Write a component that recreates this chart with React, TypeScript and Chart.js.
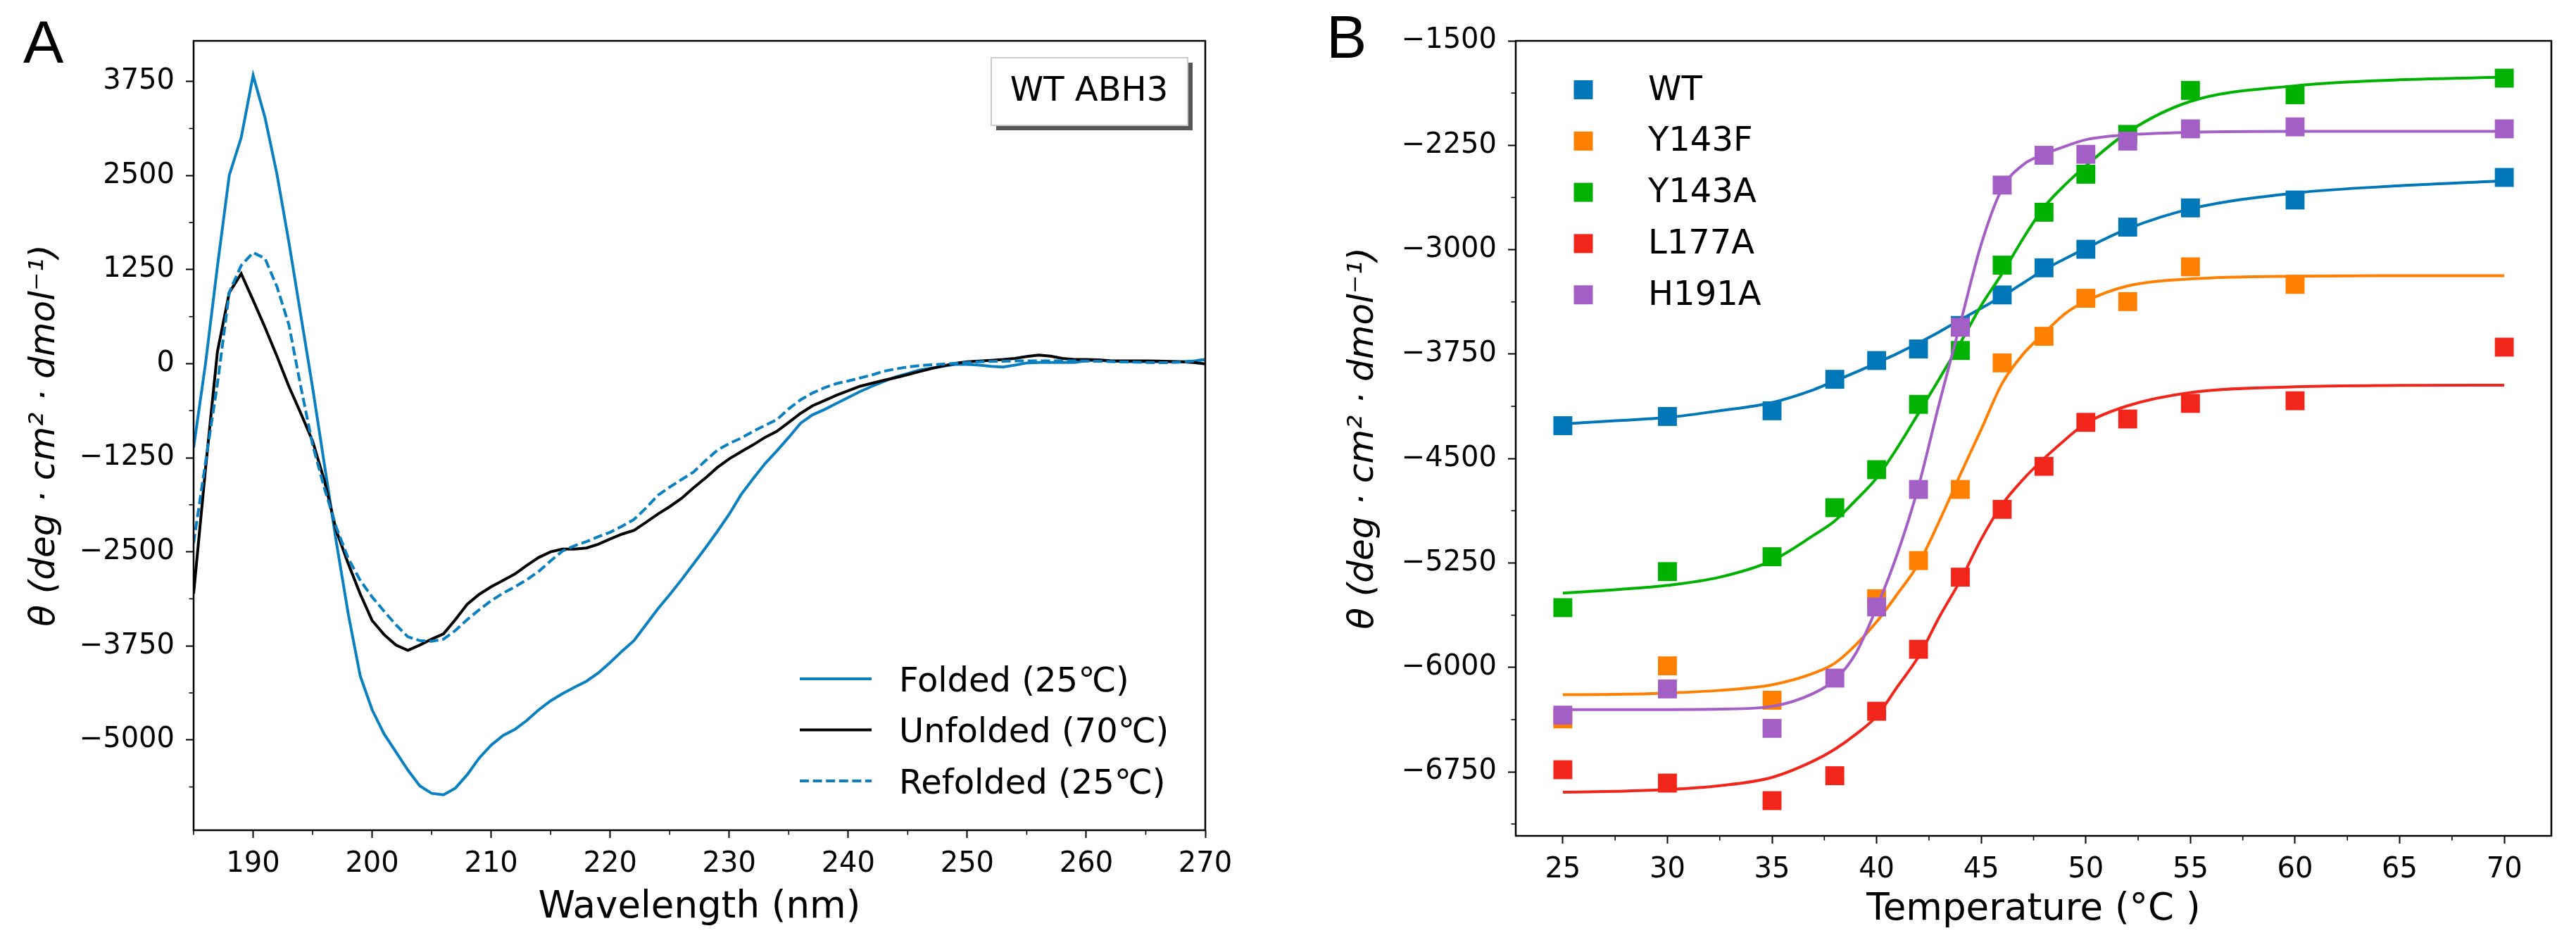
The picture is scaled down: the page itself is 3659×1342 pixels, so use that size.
import React, { useEffect, useRef } from 'react';
import { Chart, registerables } from 'chart.js';

Chart.register(...registerables);

const FONT = '"DejaVu Sans", sans-serif';

// ---------- Panel A: CD spectra ----------
const wavelengths = [
  185, 186, 187, 188, 189, 190, 191, 192, 193, 194, 195, 196, 197, 198, 199, 200, 201, 202, 203, 204,
  205, 206, 207, 208, 209, 210, 211, 212, 213, 214, 215, 216, 217, 218, 219, 220, 221, 222, 223, 224,
  225, 226, 227, 228, 229, 230, 231, 232, 233, 234, 235, 236, 237, 238, 239, 240, 241, 242, 243, 244,
  245, 246, 247, 248, 249, 250, 251, 252, 253, 254, 255, 256, 257, 258, 259, 260, 261, 262, 263, 264,
  265, 266, 267, 268, 269, 270,
];
const foldedA = [
  -1115, 0, 1290, 2506, 3005, 3831, 3270, 2520, 1620, 650, -320, -1350, -2380, -3330, -4150, -4600, -4920, -5160, -5400, -5610,
  -5710, -5730, -5640, -5460, -5240, -5070, -4940, -4860, -4740, -4600, -4480, -4385, -4300, -4220, -4110, -3970, -3820, -3680, -3470, -3260,
  -3070, -2870, -2660, -2450, -2230, -2000, -1740, -1530, -1330, -1160, -980, -790, -680, -610, -530, -450, -370, -300, -235, -175,
  -130, -85, -58, -33, -10, -10, -20, -35, -45, -20, 10, 15, 15, 15, 15, 40, 45, 35, 30, 25,
  25, 25, 25, 25, 35, 55,
];
const unfoldedA = [
  -3057, -1400, 157, 946, 1196, 843, 481, 100, -300, -658, -1030, -1560, -2225, -2660, -3060, -3414, -3600, -3740, -3810, -3740,
  -3660, -3590, -3400, -3195, -3065, -2965, -2880, -2795, -2680, -2575, -2500, -2465, -2463, -2450, -2400, -2330, -2265, -2215, -2110, -2000,
  -1900, -1790, -1650, -1520, -1380, -1265, -1170, -1080, -980, -900, -780, -660, -560, -490, -420, -360, -300, -260, -220, -185,
  -145, -105, -65, -30, 5, 25, 35, 45, 55, 70, 95, 115, 100, 70, 55, 55, 50, 40, 38, 38,
  38, 35, 30, 26, 15, -3,
];
const refoldedA = [
  -2383, -1313, -270, 950, 1305, 1476, 1398, 1024, 520, -300, -1080, -1660, -2180, -2590, -2880, -3100, -3290, -3470, -3630, -3680,
  -3690, -3660, -3545, -3400, -3270, -3150, -3050, -2965, -2870, -2760, -2620, -2490, -2420, -2365, -2300, -2240, -2160, -2070, -1920, -1750,
  -1640, -1540, -1440, -1290, -1150, -1060, -990, -900, -820, -745, -600, -480, -390, -320, -265, -230, -190, -150, -100, -70,
  -45, -25, -15, -5, 5, 15, 25, 30, 33, 36, 38, 38, 38, 38, 36, 34, 32, 28, 24, 20,
  16, 14, 14, 20, 35, 55,
];
const labelsA = ['Folded (25℃)', 'Unfolded (70℃)', 'Refolded (25℃)'];
const xTicksA = [190, 200, 210, 220, 230, 240, 250, 260, 270];
const xMinorA = [185, 195, 205, 215, 225, 235, 245, 255, 265];
const yTicksA = [-5000, -3750, -2500, -1250, 0, 1250, 2500, 3750];
const yMinorA = [-5625, -4375, -3125, -1875, -625, 625, 1875, 3125];

// ---------- Panel B: thermal melts ----------
const tempsB = [25, 30, 35, 38, 40, 42, 44, 46, 48, 50, 52, 55, 60, 70];
const wtPts = [-4264, -4198, -4157, -3931, -3796, -3713, -3544, -3325, -3130, -2997, -2838, -2700, -2643, -2481];
const y143fPts = [-6370, -5989, -6236, null, -5507, -5233, -4722, -3813, -3622, -3349, -3373, -3123, -3249, null];
const y143aPts = [-5571, -5312, -5205, -4853, -4580, -4111, -3724, -3111, -2731, -2458, -2172, -1856, -1887, -1768];
const l177aPts = [-6735, -6831, -6957, -6778, -6315, -5870, -5352, -4865, -4556, -4240, -4216, -4104, -4085, -3700];
const h191aPts = [-6343, -6155, -6438, -6077, -5566, -4722, -3557, -2536, -2322, -2315, -2220, -2132, -2118, -2132];

const fitTemps = [25, 27.5, 30, 32.5, 35, 37, 38, 39, 40, 41, 42, 43, 44, 45, 46, 47, 48, 49, 50, 52, 55, 60, 65, 70];
const wtFit = [-4252, -4229, -4205, -4157, -4098, -4005, -3943, -3880, -3813, -3745, -3670, -3590, -3504, -3420, -3335, -3240, -3145, -3065, -2990, -2850, -2707, -2593, -2541, -2505];
const y143fFit = [-6196, -6194, -6184, -6165, -6125, -6041, -5970, -5839, -5673, -5471, -5257, -4948, -4615, -4290, -3960, -3750, -3600, -3460, -3370, -3260, -3210, -3190, -3187, -3187];
const y143aFit = [-5466, -5442, -5411, -5352, -5233, -5050, -4948, -4800, -4639, -4420, -4175, -3926, -3670, -3400, -3171, -2920, -2695, -2535, -2398, -2156, -1935, -1823, -1780, -1761];
const l177aFit = [-6897, -6890, -6878, -6850, -6790, -6671, -6588, -6481, -6350, -6137, -5923, -5637, -5376, -5079, -4830, -4650, -4500, -4366, -4247, -4121, -4026, -3985, -3975, -3973];
const h191aFit = [-6303, -6303, -6303, -6300, -6280, -6185, -6090, -5900, -5570, -5180, -4700, -4100, -3530, -2960, -2560, -2390, -2315, -2258, -2210, -2175, -2157, -2150, -2150, -2150];

const namesB = ['WT', 'Y143F', 'Y143A', 'L177A', 'H191A'];
const colorsB = ['#0077b8', '#ff7f00', '#00b200', '#f2251b', '#a45fc7'];
const xTicksB = [25, 30, 35, 40, 45, 50, 55, 60, 65, 70];
const xMinorB = [27.5, 32.5, 37.5, 42.5, 47.5, 52.5, 57.5, 62.5, 67.5];
const yTicksB = [-6750, -6000, -5250, -4500, -3750, -3000, -2250, -1500];
const yMinorB = [-7125, -6375, -5625, -4875, -4125, -3375, -2625, -1875];

const blueA = '#0a80c0';
const dashA = [13, 5.6];
const LW = 4;

const fmt = (v: number) => (v < 0 ? '\u2212' + Math.abs(v) : String(v));
const pts = (xs: number[], ys: (number | null)[]) =>
  xs.map((x, i) => ({ x, y: ys[i] })).filter((p) => p.y !== null);

function xAxis(min: number, max: number, ticks: number[], title: string, h: number, titlePad: number) {
  return {
    type: 'linear',
    position: 'bottom',
    min,
    max,
    bounds: 'data',
    afterBuildTicks: (s: any) => {
      s.ticks = ticks.map((v) => ({ value: v }));
    },
    afterFit: (s: any) => {
      s.height = h;
    },
    grid: { display: true, drawOnChartArea: false, drawTicks: true, tickLength: 11, tickWidth: 2, tickColor: '#000' },
    border: { display: false },
    ticks: {
      color: '#000',
      font: { family: FONT, size: 40 },
      padding: 14,
      maxRotation: 0,
      autoSkip: false,
      callback: (v: any) => fmt(Number(v)),
    },
    title: { display: true, text: title, color: '#000', font: { family: FONT, size: 53 }, padding: { top: 0, bottom: titlePad } },
  };
}

function yAxis(min: number, max: number, ticks: number[], w: number, titlePad: number) {
  return {
    type: 'linear',
    position: 'left',
    min,
    max,
    bounds: 'data',
    afterBuildTicks: (s: any) => {
      s.ticks = ticks.map((v) => ({ value: v }));
    },
    afterFit: (s: any) => {
      s.width = w;
    },
    grid: { display: true, drawOnChartArea: false, drawTicks: true, tickLength: 11, tickWidth: 2, tickColor: '#000' },
    border: { display: false },
    ticks: {
      color: '#000',
      font: { family: FONT, size: 40 },
      padding: 16,
      autoSkip: false,
      callback: (v: any) => fmt(Number(v)),
    },
    title: {
      display: true,
      text: 'θ (deg · cm² · dmol⁻¹)',
      color: '#000',
      font: { family: FONT, size: 50, style: 'italic' },
      padding: { top: titlePad, bottom: 0 },
    },
  };
}

function drawAxesExtras(chart: any, xMinor: number[], yMinor: number[]) {
  const { ctx, chartArea: a, scales } = chart;
  ctx.save();
  ctx.strokeStyle = '#000';
  ctx.lineWidth = 1.6;
  for (const v of xMinor) {
    const p = scales.x.getPixelForValue(v);
    ctx.beginPath();
    ctx.moveTo(p, a.bottom);
    ctx.lineTo(p, a.bottom + 6.5);
    ctx.stroke();
  }
  for (const v of yMinor) {
    const p = scales.y.getPixelForValue(v);
    ctx.beginPath();
    ctx.moveTo(a.left, p);
    ctx.lineTo(a.left - 6.5, p);
    ctx.stroke();
  }
  ctx.lineWidth = 2.5;
  ctx.strokeRect(a.left, a.top, a.right - a.left, a.bottom - a.top);
  ctx.restore();
}

const annotA = {
  id: 'annotA',
  afterDraw(chart: any) {
    drawAxesExtras(chart, xMinorA, yMinorA);
    const ctx = chart.ctx;
    ctx.save();
    // panel letter
    ctx.fillStyle = '#000';
    ctx.font = '86px "Liberation Sans", sans-serif';
    ctx.textBaseline = 'alphabetic';
    ctx.textAlign = 'left';
    ctx.fillText('A', 33, 89);
    // legend
    const cols = [blueA, '#000', blueA];
    ctx.font = '48px ' + FONT;
    labelsA.forEach((lab, i) => {
      const y = 964 + i * 72.5;
      ctx.strokeStyle = cols[i];
      ctx.lineWidth = LW;
      ctx.setLineDash(i === 2 ? dashA : []);
      ctx.beginPath();
      ctx.moveTo(1136, y);
      ctx.lineTo(1238, y);
      ctx.stroke();
      ctx.setLineDash([]);
      ctx.fillStyle = '#000';
      ctx.fillText(lab, 1277, y + 17.5);
    });
    // WT ABH3 box with shadow
    ctx.fillStyle = '#555555';
    ctx.fillRect(1415, 89, 279, 96);
    ctx.fillStyle = '#fff';
    ctx.fillRect(1408, 82, 279, 96);
    ctx.strokeStyle = '#cccccc';
    ctx.lineWidth = 2;
    ctx.strokeRect(1408, 82, 279, 96);
    ctx.fillStyle = '#000';
    ctx.textAlign = 'center';
    ctx.fillText('WT ABH3', 1547, 143);
    ctx.restore();
  },
};

const annotB = {
  id: 'annotB',
  afterDraw(chart: any) {
    drawAxesExtras(chart, xMinorB, yMinorB);
    const ctx = chart.ctx;
    ctx.save();
    ctx.fillStyle = '#000';
    ctx.font = '86px "Liberation Sans", sans-serif';
    ctx.textBaseline = 'alphabetic';
    ctx.textAlign = 'left';
    ctx.fillText('B', 84, 82);
    ctx.font = '48px ' + FONT;
    namesB.forEach((n, i) => {
      const y = 127.5 + i * 72.8;
      ctx.fillStyle = colorsB[i];
      ctx.fillRect(449 - 13.5, y - 13.5, 27, 27);
      ctx.fillStyle = '#000';
      ctx.fillText(n, 541, y + 14);
    });
    ctx.restore();
  },
};

function configA(): any {
  const series = [foldedA, unfoldedA, refoldedA];
  const cols = [blueA, '#000000', blueA];
  return {
    type: 'line',
    data: {
      datasets: series.map((s, i) => ({
        label: labelsA[i],
        data: pts(wavelengths, s),
        borderColor: cols[i],
        backgroundColor: cols[i],
        borderWidth: LW,
        borderDash: i === 2 ? dashA : [],
        pointRadius: 0,
        tension: 0,
        fill: false,
        order: 3 - i,
      })),
    },
    options: {
      animation: false,
      responsive: false,
      devicePixelRatio: 1,
      events: [],
      layout: { padding: { top: 58, right: 88, left: 0, bottom: 0 } },
      plugins: { legend: { display: false }, tooltip: { enabled: false } },
      scales: {
        x: xAxis(185, 270, xTicksA, 'Wavelength (nm)', 163, 21),
        y: yAxis(-6200, 4290, yTicksA, 275, 34),
      },
    },
    plugins: [annotA],
  };
}

function configB(): any {
  const ptsSeries = [wtPts, y143fPts, y143aPts, l177aPts, h191aPts];
  const fitSeries = [wtFit, y143fFit, y143aFit, l177aFit, h191aFit];
  const datasets: any[] = [];
  let order = 20;
  namesB.forEach((n, i) => {
    datasets.push({
      label: n,
      data: pts(tempsB, ptsSeries[i]),
      showLine: false,
      pointStyle: 'rect',
      pointRadius: 19,
      pointBorderWidth: 0,
      pointBackgroundColor: colorsB[i],
      borderColor: colorsB[i],
      backgroundColor: colorsB[i],
      order: order--,
    });
    datasets.push({
      label: n + ' fit',
      data: pts(fitTemps, fitSeries[i]),
      borderColor: colorsB[i],
      backgroundColor: colorsB[i],
      borderWidth: LW,
      pointRadius: 0,
      cubicInterpolationMode: 'monotone',
      fill: false,
      order: order--,
    });
  });
  return {
    type: 'line',
    data: { datasets },
    options: {
      animation: false,
      responsive: false,
      devicePixelRatio: 1,
      events: [],
      layout: { padding: { top: 58, right: 35, left: 0, bottom: 0 } },
      plugins: { legend: { display: false }, tooltip: { enabled: false } },
      scales: {
        x: xAxis(22.75, 72.25, xTicksB, 'Temperature (°C )', 155, 18),
        y: yAxis(-7210, -1500, yTicksB, 353, 107),
      },
    },
    plugins: [annotB],
  };
}

export default function App() {
  const refA = useRef<HTMLCanvasElement>(null);
  const refB = useRef<HTMLCanvasElement>(null);
  useEffect(() => {
    const a = new Chart(refA.current as HTMLCanvasElement, configA());
    const b = new Chart(refB.current as HTMLCanvasElement, configB());
    return () => {
      a.destroy();
      b.destroy();
    };
  }, []);
  return (
    <div style={{ position: 'absolute', left: 0, top: 0, width: 3659, height: 1342, background: '#fff' }}>
      <canvas
        ref={refA}
        width={1800}
        height={1342}
        style={{ position: 'absolute', left: 0, top: 0, width: 1800, height: 1342 }}
      />
      <canvas
        ref={refB}
        width={1859}
        height={1342}
        style={{ position: 'absolute', left: 1800, top: 0, width: 1859, height: 1342 }}
      />
    </div>
  );
}
